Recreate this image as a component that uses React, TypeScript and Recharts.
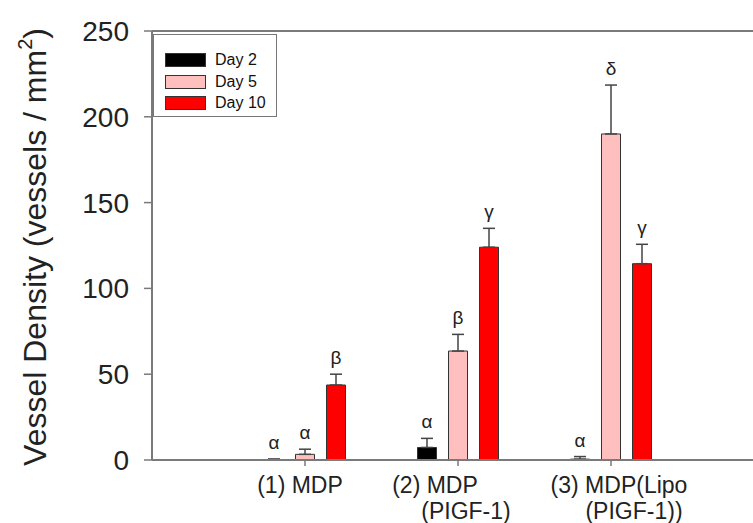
import { Bar, BarChart, ErrorBar, LabelList, Legend, ReferenceLine, XAxis, YAxis } from "recharts";

const groups = ["(1) MDP", "(2) MDP (PIGF-1)", "(3) MDP(Lipo (PIGF-1))"];
const groupLines = [["(1) MDP"], ["(2) MDP", "(PIGF-1)"], ["(3) MDP(Lipo", "(PIGF-1))"]];
const seriesNames = ["Day 2", "Day 5", "Day 10"];

const day2 = [0.3, 7.3, 0.5];
const day2Err = [0.3, 5.3, 1.5];
const day2Sig = ["α", "α", "α"];

const day5 = [3.3, 63.5, 190];
const day5Err = [3, 9.7, 28.5];
const day5Sig = ["α", "β", "δ"];

const day10 = [43.7, 124, 114.4];
const day10Err = [6.3, 11, 11.3];
const day10Sig = ["β", "γ", "γ"];

const yTicks = [0, 50, 100, 150, 200, 250];

const data = groups.map((g, i) => ({
  group: g,
  d2: day2[i],
  d5: day5[i],
  d10: day10[i],
  e2: [0, day2Err[i]],
  e5: [0, day5Err[i]],
  e10: [0, day10Err[i]],
  s2: day2Sig[i],
  s5: day5Sig[i],
  s10: day10Sig[i]
}));

// layout
const W = 753;
const H = 523;
const TOP = 31;
const XAXIS_H = 63;
const YAXIS_W = 152;
const Y_MAX = 250;
const PX_PER_UNIT = (H - TOP - XAXIS_H) / Y_MAX;
const FONT = "'Liberation Sans', Arial, sans-serif";
const AXIS = "#7a7a7a";

// per-line horizontal nudges for the category labels
const lineDx = [[-5], [-23, 8], [8, 23]];

const errs: Record<string, number[]> = { s2: day2Err, s5: day5Err, s10: day10Err };

function sigLabel(key: string) {
  return (props: any) => {
    const vb = props.viewBox ?? props;
    const x = Number(vb.x) + Number(vb.width) / 2;
    const top = Number(vb.y);
    const capY = top - errs[key][props.index] * PX_PER_UNIT;
    return (
      <text x={x} y={capY - 10} textAnchor="middle" fontSize={19} fill="#222" fontFamily={FONT}>
        {props.value}
      </text>
    );
  };
}

function GroupTick(props: any) {
  const { x, y, payload } = props;
  const idx = groups.indexOf(payload.value);
  const lines = groupLines[idx] ?? [payload.value];
  return (
    <g>
      {lines.map((ln, j) => (
        <text
          key={j}
          x={x + (lineDx[idx]?.[j] ?? 0)}
          y={y + 27 + j * 26}
          textAnchor="middle"
          fontSize={23}
          fill="#222"
          fontFamily={FONT}
        >
          {ln}
        </text>
      ))}
    </g>
  );
}

function YTitle() {
  return (
    <text
      transform={`translate(46, 247) rotate(-90)`}
      textAnchor="middle"
      fontSize={32}
      fill="#222"
      fontFamily={FONT}
    >
      Vessel Density (vessels / mm
      <tspan fontSize={20} dy={-14}>2</tspan>
      <tspan dy={14}>)</tspan>
    </text>
  );
}

function LegendBox(props: any) {
  const items = [...(props.payload ?? [])].sort(
    (a: any, b: any) => seriesNames.indexOf(a.value) - seriesNames.indexOf(b.value)
  );
  return (
    <div
      style={{
        width: 124,
        height: 83,
        border: "1.5px solid #777",
        background: "#fff",
        fontFamily: FONT,
        fontSize: 16,
        color: "#111",
        paddingTop: 14,
        boxSizing: "border-box"
      }}
    >
      {items.map((it: any) => (
        <div key={it.value} style={{ display: "flex", alignItems: "center", height: 21.7, paddingLeft: 11 }}>
          <span
            style={{
              display: "inline-block",
              width: 39,
              height: 12,
              background: it.color,
              border: "1px solid #333",
              marginRight: 9
            }}
          />
          <span>{it.value}</span>
        </div>
      ))}
    </div>
  );
}

export default function App() {
  return (
    <div style={{ position: "absolute", left: 0, top: 0, background: "#fff" }}>
      <BarChart
        width={W}
        height={H}
        data={data}
        margin={{ top: TOP, right: 0, bottom: 0, left: 0 }}
        barSize={19}
        barGap={12}
      >
        <XAxis
          dataKey="group"
          height={XAXIS_H}
          padding={{ left: 76.5, right: 65.5 }}
          stroke={AXIS}
          strokeWidth={2}
          tickSize={6}
          tickMargin={0}
          tickLine={{ stroke: AXIS, strokeWidth: 1.5 }}
          tick={<GroupTick />}
          interval={0}
        />
        <YAxis
          width={YAXIS_W}
          domain={[0, Y_MAX]}
          ticks={yTicks}
          allowDataOverflow
          stroke={AXIS}
          strokeWidth={2}
          tickSize={8}
          tickMargin={15}
          tickLine={{ stroke: AXIS, strokeWidth: 1.5 }}
          tick={{ fontSize: 28, fill: "#222", fontFamily: FONT }}
          label={<YTitle />}
        />
        <ReferenceLine y={Y_MAX} stroke={AXIS} strokeWidth={2} />
        <Legend
          layout="vertical"
          align="center"
          verticalAlign="middle"
          content={<LegendBox />}
          wrapperStyle={{ left: 153, top: 34, width: 126, height: 85 }}
        />
        <Bar dataKey="d2" name={seriesNames[0]} fill="#000000" stroke="#333" strokeWidth={1} isAnimationActive={false}>
          <ErrorBar dataKey="e2" direction="y" width={6} stroke="#444" strokeWidth={1.5} />
          <LabelList dataKey="s2" content={sigLabel("s2")} />
        </Bar>
        <Bar dataKey="d5" name={seriesNames[1]} fill="#ffbfbf" stroke="#333" strokeWidth={1} isAnimationActive={false}>
          <ErrorBar dataKey="e5" direction="y" width={6} stroke="#444" strokeWidth={1.5} />
          <LabelList dataKey="s5" content={sigLabel("s5")} />
        </Bar>
        <Bar dataKey="d10" name={seriesNames[2]} fill="#ff0000" stroke="#333" strokeWidth={1} isAnimationActive={false}>
          <ErrorBar dataKey="e10" direction="y" width={6} stroke="#444" strokeWidth={1.5} />
          <LabelList dataKey="s10" content={sigLabel("s10")} />
        </Bar>
      </BarChart>
    </div>
  );
}
